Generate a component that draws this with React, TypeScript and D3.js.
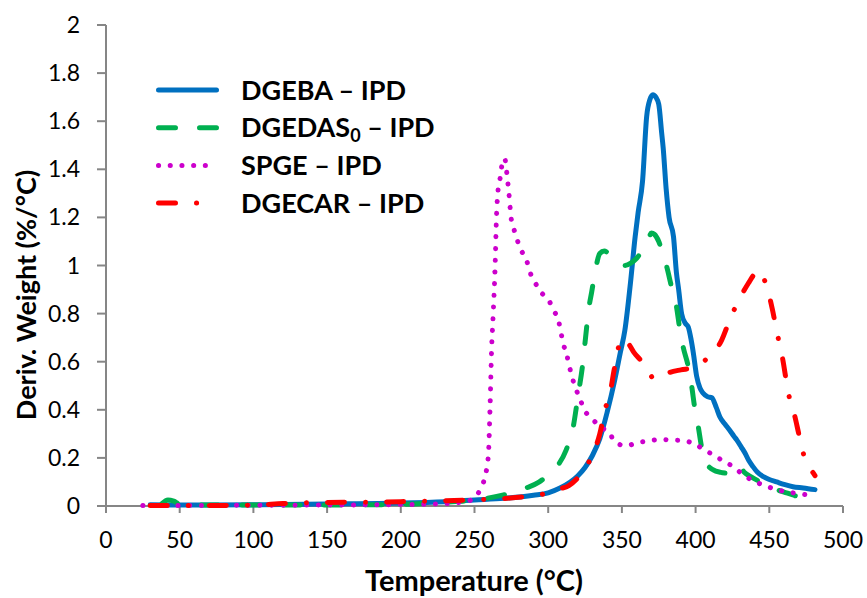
import React from "react";
import * as d3 from "d3";

const xTicks = [0, 50, 100, 150, 200, 250, 300, 350, 400, 450, 500];
const yTicks = [0, 0.2, 0.4, 0.6, 0.8, 1, 1.2, 1.4, 1.6, 1.8, 2];
const yTickLabels = ["0", "0.2", "0.4", "0.6", "0.8", "1", "1.2", "1.4", "1.6", "1.8", "2"];

const dgeba: [number, number][] = [
  [30, 0.005], [50, 0.004], [100, 0.005], [150, 0.008], [200, 0.012], [230, 0.018], [250, 0.025],
  [270, 0.032], [290, 0.045], [300, 0.055], [308, 0.075], [315, 0.1], [320, 0.125], [325, 0.16],
  [330, 0.21], [335, 0.28], [340, 0.39], [345, 0.52], [349, 0.64], [352, 0.73], [355.5, 0.91],
  [359, 1.12], [361, 1.22], [364, 1.35], [366.8, 1.62], [369, 1.69], [371, 1.71], [373, 1.7],
  [375, 1.67], [377, 1.55], [378, 1.49], [380, 1.32], [382, 1.2], [385, 1.12], [387, 0.97],
  [388.5, 0.9], [390.5, 0.8], [393, 0.76], [395, 0.745], [397, 0.69], [398.5, 0.635], [400.7, 0.54],
  [403, 0.49], [405, 0.47], [408, 0.455], [411, 0.45], [414, 0.41], [416.5, 0.37], [420, 0.34],
  [423, 0.316], [426, 0.29], [428, 0.274], [431, 0.245], [433.5, 0.22], [436, 0.19], [439, 0.163],
  [442, 0.14], [446, 0.122], [450, 0.11], [455, 0.1], [460, 0.09], [466, 0.08], [473, 0.075], [481, 0.068],
];

const dgedas: [number, number][] = [
  [38, 0.01], [42, 0.025], [46, 0.02], [50, 0.008], [60, 0.004], [100, 0.004], [150, 0.004],
  [200, 0.007], [230, 0.016], [250, 0.025], [269, 0.045], [285, 0.075], [294, 0.1], [300, 0.13],
  [306, 0.165], [312, 0.23], [317, 0.33], [320.5, 0.47], [323, 0.57], [325, 0.68], [327.5, 0.82],
  [329.5, 0.89], [332, 0.98], [335, 1.05], [338, 1.06], [341, 1.05], [344, 1.03], [348, 1.005],
  [352, 1.0], [356, 1.01], [360, 1.03], [364, 1.065], [368, 1.11], [370, 1.135], [372, 1.13],
  [375, 1.1], [377, 1.064], [380.4, 0.995], [383.7, 0.91], [387, 0.83], [389.4, 0.73], [391.6, 0.66],
  [395, 0.58], [397.3, 0.5], [399.6, 0.4], [401.8, 0.33], [404, 0.247], [407.5, 0.178], [412, 0.15],
  [417, 0.14], [421, 0.136], [425.6, 0.133], [428, 0.145], [430, 0.163], [433, 0.14], [438, 0.12],
  [444, 0.1], [452.7, 0.073], [460, 0.058], [466, 0.046], [471, 0.035], [476.5, 0.025],
];

const spge: [number, number][] = [
  [25, 0.002], [50, 0.002], [100, 0.003], [150, 0.004], [200, 0.006], [230, 0.01], [245, 0.02],
  [250, 0.035], [253.7, 0.066], [257, 0.12], [259.4, 0.21], [260.5, 0.4], [261.6, 0.65], [262.7, 0.8],
  [263.9, 0.98], [265, 1.217], [266, 1.314], [267.3, 1.36], [268.4, 1.41], [270.5, 1.445], [271.8, 1.39],
  [273.4, 1.296], [274.8, 1.2], [276.8, 1.15], [279, 1.106], [282, 1.06], [285.4, 1.02], [287.6, 0.973],
  [291, 0.93], [295, 0.89], [300.5, 0.854], [304, 0.81], [306.8, 0.776], [308.7, 0.72], [310.2, 0.676],
  [312.5, 0.63], [316, 0.54], [318.6, 0.49], [321.6, 0.445], [324.5, 0.4], [329.5, 0.365], [335, 0.33],
  [342, 0.3], [345, 0.267], [353, 0.25], [360, 0.263], [368, 0.27], [376, 0.277], [383.8, 0.274],
  [391.6, 0.272], [398.5, 0.26], [405, 0.237], [412, 0.212], [418.8, 0.187], [425.6, 0.163], [431, 0.136],
  [438, 0.108], [446, 0.087], [454, 0.07], [460.6, 0.06], [468, 0.053], [476, 0.046],
];

const dgecar: [number, number][] = [
  [30, 0.002], [60, 0.002], [100, 0.004], [120, 0.01], [150, 0.015], [180, 0.016], [200, 0.018],
  [230, 0.022], [245, 0.025], [272, 0.032], [288, 0.042], [299, 0.053], [307, 0.07], [314, 0.085],
  [319, 0.11], [324, 0.15], [330.6, 0.22], [335, 0.3], [338.5, 0.4], [342, 0.47], [344.5, 0.558],
  [347.5, 0.656], [350.5, 0.697], [352.5, 0.69], [354.5, 0.675], [358, 0.64], [363, 0.604], [368, 0.56],
  [372, 0.527], [376, 0.538], [382.6, 0.556], [390, 0.566], [398.5, 0.575], [405, 0.6], [411, 0.63],
  [417.7, 0.69], [423.4, 0.778], [430, 0.864], [435.8, 0.926], [440, 0.965], [443, 0.98], [446, 0.95],
  [449.3, 0.89], [452, 0.82], [455, 0.728], [459, 0.614], [463, 0.468], [467.4, 0.371], [470, 0.3],
  [473.5, 0.21], [477, 0.165], [481, 0.126],
];

const seriesNames = ["DGEBA – IPD", "DGEDAS", "SPGE – IPD", "DGECAR – IPD"];
const seriesData = [dgeba, dgedas, spge, dgecar];
const colors = ["#0070C0", "#00B050", "#CC00CC", "#FF0000"];
const dashes = ["none", "17 24", "0.1 11.6", "17 21 0.1 21"];

const W = 867;
const H = 598;
const FONT = "Lato, 'Open Sans', sans-serif";

export default function App() {
  const x = d3.scaleLinear().domain([0, 500]).range([106, 843]);
  const y = d3.scaleLinear().domain([0, 2]).range([506, 25]);
  const line = d3
    .line<[number, number]>()
    .x((d) => x(d[0]))
    .y((d) => y(d[1]))
    .curve(d3.curveMonotoneX);
  const axisColor = "#868686";

  return (
    <div style={{ position: "fixed", left: 0, top: 0 }}>
      <svg width={W} height={H} style={{ display: "block", background: "#fff" }}>
        <rect x={0} y={0} width={W} height={H} fill="#fff" />
        {/* axes */}
        <line x1={x(0)} x2={x(0)} y1={y(2)} y2={y(0) + 7} stroke={axisColor} strokeWidth={2} />
        <line x1={x(0) - 9} x2={x(500)} y1={y(0)} y2={y(0)} stroke={axisColor} strokeWidth={2} />
        {yTicks.map((t, i) => (
          <g key={"yt" + i}>
            <line x1={x(0) - 9} x2={x(0)} y1={y(t)} y2={y(t)} stroke={axisColor} strokeWidth={2} />
            <text
              x={80}
              y={y(t)}
              dy="0.35em"
              textAnchor="end"
              fontFamily={FONT}
              fontSize={23}
              fill="#000"
            >
              {yTickLabels[i]}
            </text>
          </g>
        ))}
        {xTicks.map((t, i) => (
          <g key={"xt" + i}>
            <line x1={x(t)} x2={x(t)} y1={y(0)} y2={y(0) + 7} stroke={axisColor} strokeWidth={2} />
            <text x={x(t)} y={548} textAnchor="middle" fontFamily={FONT} fontSize={23} fill="#000">
              {t}
            </text>
          </g>
        ))}
        {/* axis titles */}
        <text x={474} y={591} textAnchor="middle" fontFamily={FONT} fontWeight="bold" fontSize={29} fill="#000">
          Temperature (°C)
        </text>
        <text
          transform="translate(36,295) rotate(-90)"
          textAnchor="middle"
          fontFamily={FONT}
          fontWeight="bold"
          fontSize={27}
          fill="#000"
        >
          Deriv. Weight (%/°C)
        </text>
        {/* series */}
        {seriesData.map((s, i) => (
          <path
            key={"s" + i}
            d={line(s) || ""}
            fill="none"
            stroke={colors[i]}
            strokeWidth={5}
            strokeDasharray={dashes[i]}
            strokeLinecap="round"
            strokeLinejoin="round"
          />
        ))}
        {/* legend */}
        {seriesNames.map((n, i) => {
          const ly = 90 + i * 37.7;
          return (
            <g key={"lg" + i}>
              <line
                x1={158.5}
                x2={216.5}
                y1={ly}
                y2={ly}
                stroke={colors[i]}
                strokeWidth={5}
                strokeDasharray={dashes[i]}
                strokeLinecap="round"
              />
              <text x={241} y={ly + 9.5} fontFamily={FONT} fontWeight="bold" fontSize={27} fill="#000">
                {i === 1 ? (
                  <>
                    DGEDAS
                    <tspan fontSize={18} dy={5}>0</tspan>
                    <tspan dy={-5}> – IPD</tspan>
                  </>
                ) : (
                  n
                )}
              </text>
            </g>
          );
        })}
      </svg>
    </div>
  );
}
